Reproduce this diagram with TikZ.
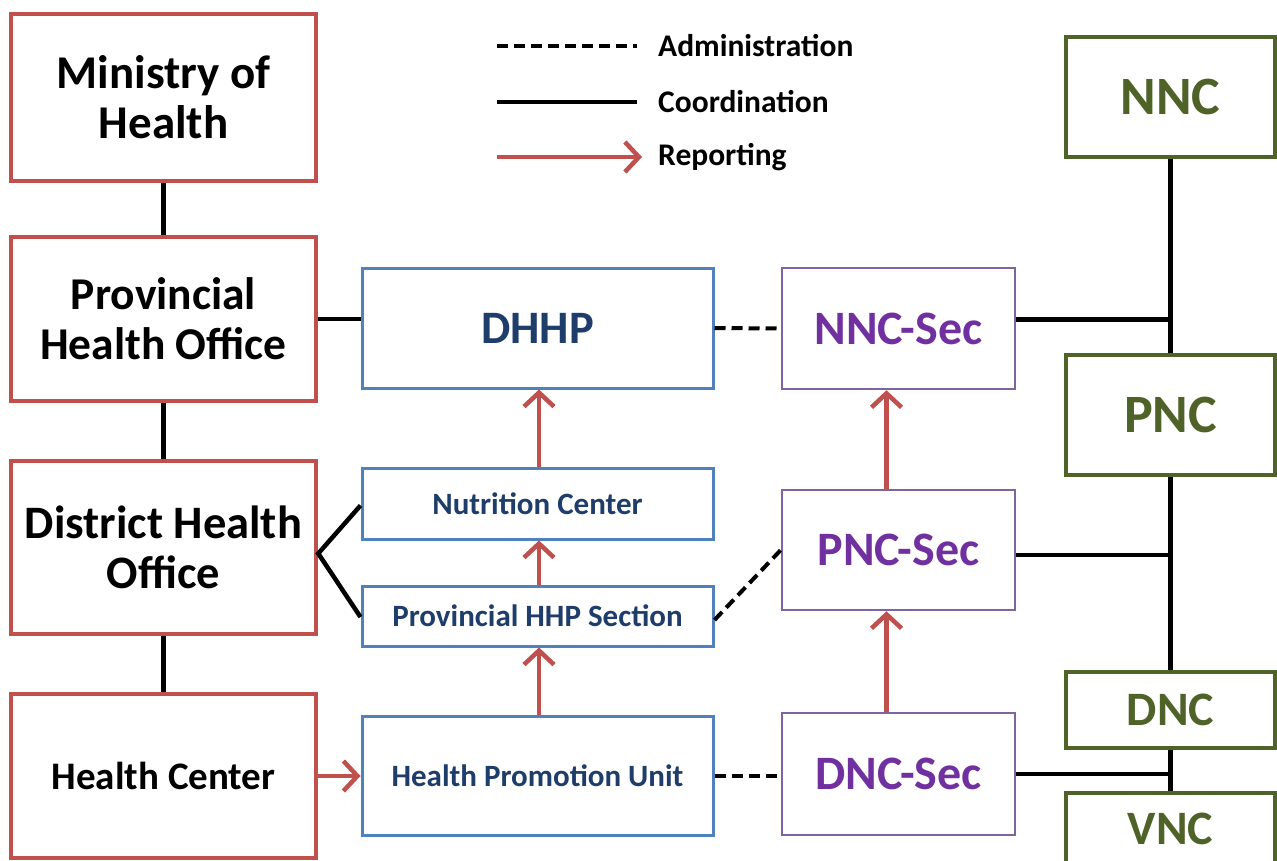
\documentclass[tikz,border=0pt]{standalone}
\usepackage{fontspec}
\setmainfont{Carlito}
\usetikzlibrary{arrows.meta}
\definecolor{boxred}{HTML}{C0504D}
\definecolor{boxblue}{HTML}{4F81BD}
\definecolor{txtblue}{HTML}{1F3D6B}
\definecolor{boxpurple}{HTML}{8064A2}
\definecolor{txtpurple}{HTML}{7030A0}
\definecolor{boxgreen}{HTML}{4F6228}
\tikzset{
  box/.style={draw, fill=white, inner sep=0pt, align=center, font=\bfseries},
  redbox/.style={box, draw=boxred, line width=4.5pt, minimum width=305pt, text=black},
  bluebox/.style={box, draw=boxblue, line width=3pt, minimum width=351pt, text=txtblue},
  purplebox/.style={box, draw=boxpurple, line width=2.5pt, minimum width=233pt, text=txtpurple},
  greenbox/.style={box, draw=boxgreen, line width=3.5pt, minimum width=209pt, text=boxgreen},
  coordline/.style={draw=black, line width=4.5pt},
  adminline/.style={draw=black, line width=4pt, dash pattern=on 11pt off 6pt},
  reportarrow/.style={draw=boxred, line width=4.5pt, -{Straight Barb[length=14pt,width=30pt]}},
  legtext/.style={anchor=west, inner sep=0pt, font=\fontsize{31.5}{35}\selectfont\bfseries}
}
\begin{document}
\begin{tikzpicture}[x=1pt,y=-1pt]
\useasboundingbox[fill=white] (0,0) rectangle (1277,861);

% left column
\node[redbox, minimum height=167pt, font=\fontsize{47}{50}\selectfont\bfseries] (moh) at (163.5,97.5) {Ministry of\\Health};
\node[redbox, minimum height=164pt, font=\fontsize{45.5}{50}\selectfont\bfseries] (pho) at (163.5,319) {Provincial\\Health Office};
\node[redbox, minimum height=173pt, font=\fontsize{46.5}{50}\selectfont\bfseries] (dho) at (163.5,547.5) {District Health\\Office};
\node[redbox, minimum height=164pt, font=\fontsize{39}{42}\selectfont\bfseries] (hc) at (163.5,776) {Health Center};

% blue column
\node[bluebox, minimum height=120pt, font=\fontsize{46.5}{50}\selectfont\bfseries] (dhhp) at (537.5,328) {DHHP};
\node[bluebox, minimum height=71pt, font=\fontsize{31}{34}\selectfont\bfseries] (nut) at (537.5,503.5) {Nutrition Center};
\node[bluebox, minimum height=60pt, font=\fontsize{31}{34}\selectfont\bfseries] (phhp) at (537.5,616) {Provincial HHP Section};
\node[bluebox, minimum height=119pt, font=\fontsize{31}{34}\selectfont\bfseries] (hpu) at (537.5,776) {Health Promotion Unit};

% purple column
\node[purplebox, minimum height=121pt, font=\fontsize{48}{52}\selectfont\bfseries] (nncs) at (898.5,328.5) {NNC-Sec};
\node[purplebox, minimum height=120pt, font=\fontsize{48}{52}\selectfont\bfseries] (pncs) at (898.5,550) {PNC-Sec};
\node[purplebox, minimum height=122pt, font=\fontsize{48}{52}\selectfont\bfseries] (dncs) at (898.5,774) {DNC-Sec};

% green column
\node[greenbox, minimum height=120pt, font=\fontsize{54}{58}\selectfont\bfseries] (nnc) at (1170.5,97) {NNC};
\node[greenbox, minimum height=120pt, font=\fontsize{54}{58}\selectfont\bfseries] (pnc) at (1170.5,415) {PNC};
\node[greenbox, minimum height=76pt, font=\fontsize{48}{52}\selectfont\bfseries] (dnc) at (1170.5,710) {DNC};
\node[greenbox, minimum height=120pt, anchor=north, font=\fontsize{48}{52}\selectfont\bfseries] (vnc) at (1170.5,791) {\raisebox{8pt}[0pt][0pt]{VNC}};

% legend
\coordinate (la1) at (497,46);  \coordinate (la2) at (637,46);
\coordinate (lc1) at (497,102); \coordinate (lc2) at (637,102);
\coordinate (lr1) at (497,157); \coordinate (lr2) at (642,157);
\draw[adminline] (la1) -- (la2);
\draw[coordline] (lc1) -- (lc2);
\draw[reportarrow] (lr1) -- (lr2);
\node[legtext] (lat) at (658,46) {Administration};
\node[legtext] (lct) at (658,102) {Coordination};
\node[legtext] (lrt) at (658,157) {Reporting};

% coordination lines
\draw[coordline] (moh.south) -- (pho.north);
\draw[coordline] (pho.south) -- (dho.north);
\draw[coordline] (dho.south) -- (hc.north);
\draw[coordline] (pho.east) -- (pho.east -| dhhp.west);
\draw[coordline, line join=miter] ([yshift=-2pt]nut.west) -- ([yshift=-6pt]dho.east) -- ([yshift=-1pt]phhp.west);
\draw[coordline] (nnc.south) -- (pnc.north);
\draw[coordline] (pnc.south) -- (dnc.north);
\draw[coordline] (dnc.south) -- (vnc.north);
\draw[coordline] ([yshift=9pt]nncs.east) -- ([yshift=9pt]nncs.east -| nnc.south);
\draw[coordline] ([yshift=-5pt]pncs.east) -- ([yshift=-5pt]pncs.east -| pnc.south);
\draw[coordline] (dncs.east) -- (dncs.east -| dnc.south);

% administration lines
\draw[adminline] (dhhp.east) -- (nncs.west);
\draw[adminline] ([yshift=-4pt]phhp.east) -- (pncs.west);
\draw[adminline] (hpu.east) -- (hpu.east -| dncs.west);

% reporting arrows
\draw[reportarrow] (hc.east) -- (hpu.west);
\draw[reportarrow] ([xshift=1.5pt]hpu.north) -- ([xshift=1.5pt]phhp.south);
\draw[reportarrow] ([xshift=1.5pt]phhp.north) -- ([xshift=1.5pt]nut.south);
\draw[reportarrow] ([xshift=1.5pt]nut.north) -- ([xshift=1.5pt]dhhp.south);
\draw[reportarrow] ([xshift=-12pt]dncs.north) -- ([xshift=-12pt]dncs.north |- pncs.south);
\draw[reportarrow] ([xshift=-12pt]pncs.north) -- ([xshift=-12pt]pncs.north |- nncs.south);
\end{tikzpicture}
\end{document}
